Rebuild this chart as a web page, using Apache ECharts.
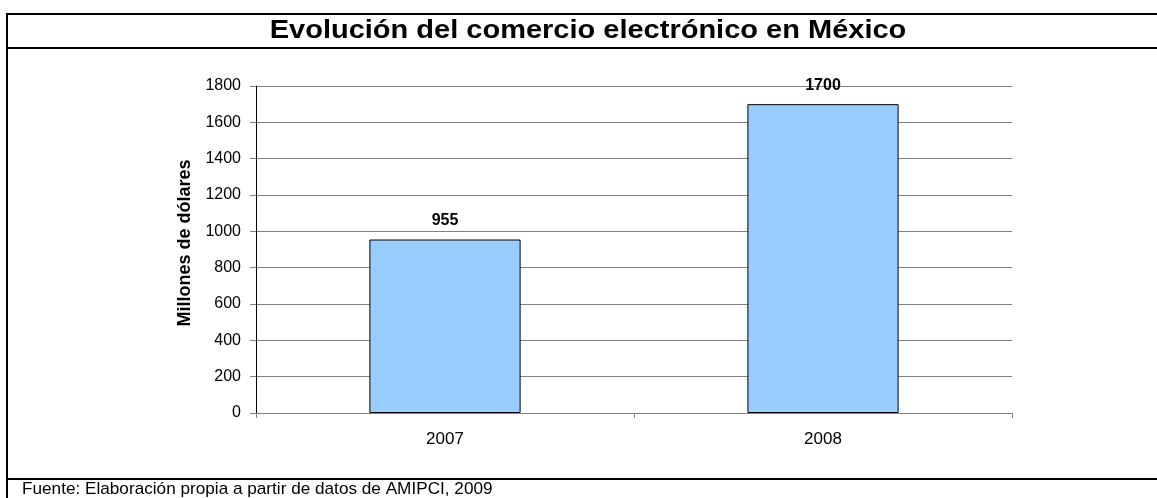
<!DOCTYPE html>
<html><head><meta charset="utf-8">
<script src="https://cdn.jsdelivr.net/npm/echarts@6/dist/echarts.min.js"></script>
<style>html,body{margin:0;padding:0;background:#fff}#c{width:1157px;height:498px}</style>
</head><body><div id="c"></div>
<script>
const categories = ['2007', '2008'];
const values = [955, 1700];
const titleText = 'Evolución del comercio electrónico en México';
const yAxisName = 'Millones de dólares';
const sourceText = 'Fuente: Elaboración propia a partir de datos de AMIPCI, 2009';

const FONT = '"Liberation Sans", Arial, sans-serif';
const chart = echarts.init(document.getElementById('c'), null, {renderer: 'canvas'});
chart.setOption({
  backgroundColor: '#fff',
  animation: false,
  grid: {left: 256, right: 145, top: 86, bottom: 85, containLabel: false},
  xAxis: {
    type: 'category', data: categories, boundaryGap: true,
    axisLine: {show: true, lineStyle: {color: '#808080', width: 1}},
    axisTick: {show: true, alignWithLabel: false, length: 5, lineStyle: {color: '#808080'}},
    axisLabel: {color: '#000', fontFamily: FONT, fontSize: 17, margin: 18}
  },
  yAxis: {
    type: 'value', min: 0, max: 1800, interval: 200,
    axisLine: {show: true, lineStyle: {color: '#000', width: 1}},
    axisTick: {show: true, length: 6, lineStyle: {color: '#808080'}},
    axisLabel: {color: '#000', fontFamily: FONT, fontSize: 16, margin: 15,
                formatter: v => String(v)},
    splitLine: {show: true, lineStyle: {color: '#808080', width: 1}}
  },
  series: [{
    type: 'bar', data: values, barWidth: '40%',
    itemStyle: {color: '#99CCFF', borderColor: '#000', borderWidth: 1},
    label: {show: true, position: 'top', distance: 11, color: '#000',
            fontFamily: FONT, fontSize: 16, fontWeight: 'bold'}
  }],
  graphic: [
    {type: 'line', shape: {x1: 7, y1: 14, x2: 1157, y2: 14}, style: {stroke: '#000', lineWidth: 2}},
    {type: 'line', shape: {x1: 7, y1: 48, x2: 1157, y2: 48}, style: {stroke: '#000', lineWidth: 2}},
    {type: 'line', shape: {x1: 7, y1: 479, x2: 1157, y2: 479}, style: {stroke: '#000', lineWidth: 2}},
    {type: 'line', shape: {x1: 7, y1: 13, x2: 7, y2: 498}, style: {stroke: '#000', lineWidth: 2}},
    {type: 'text', x: 588, y: 31, scaleX: 1.16, style: {text: titleText, fill: '#000',
      font: 'bold 25px ' + FONT, textAlign: 'center', textVerticalAlign: 'middle'}},
    {type: 'text', x: 185, y: 243, rotation: Math.PI / 2, style: {text: yAxisName, fill: '#000',
      font: 'bold 18px ' + FONT, textAlign: 'center', textVerticalAlign: 'middle'}},
    {type: 'text', x: 22, y: 481, scaleX: 1.01, style: {text: sourceText, fill: '#000',
      font: '17px ' + FONT, textAlign: 'left', textVerticalAlign: 'top'}}
  ]
});
</script></body></html>
